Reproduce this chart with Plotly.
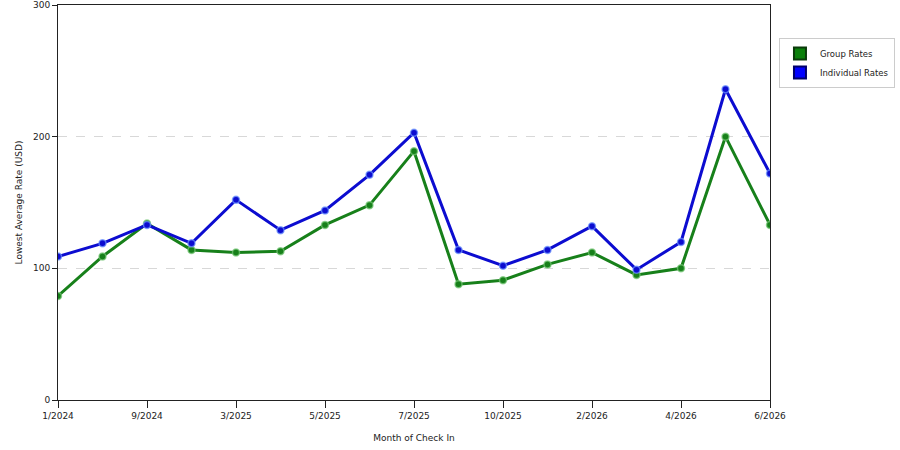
import plotly.graph_objects as go

months = ["1/2024", "8/2024", "9/2024", "1/2025", "3/2025", "4/2025", "5/2025", "6/2025",
          "7/2025", "8/2025", "10/2025", "12/2025", "2/2026", "3/2026", "4/2026", "5/2026", "6/2026"]
group_rates = [79, 109, 134, 114, 112, 113, 133, 148, 189, 88, 91, 103, 112, 95, 100, 200, 133]
individual_rates = [109, 119, 133, 119, 152, 129, 144, 171, 203, 114, 102, 114, 132, 99, 120, 236, 172]
tick_labels = months[::2]
y_ticks = [0, 100, 200, 300]

GREEN = "#17801a"
BLUE = "#0c0cd0"
FONT = "DejaVu Sans"

fig = go.Figure()
for name, vals, col, halo in [("Group Rates", group_rates, GREEN, "rgba(120,200,120,0.7)"),
                              ("Individual Rates", individual_rates, BLUE, "rgba(110,150,255,0.7)")]:
    fig.add_trace(go.Scatter(
        x=months, y=vals, mode="lines+markers", name=name, showlegend=False,
        line=dict(color=col, width=3),
        marker=dict(size=7, color=col, line=dict(color=halo, width=1.5)),
        hoverinfo="x+y",
    ))

for name, col, border in [("Group Rates", "#0a800a", "#0a3a0a"), ("Individual Rates", "#0000ff", "#00006a")]:
    fig.add_trace(go.Scatter(
        x=[None], y=[None], mode="markers", name=name,
        marker=dict(symbol="square", size=11, color=col, line=dict(color=border, width=1)),
    ))

fig.update_layout(
    width=900, height=450,
    margin=dict(l=58, r=130, t=5, b=50, autoexpand=False),
    paper_bgcolor="white", plot_bgcolor="white",
    font=dict(family=FONT, size=9, color="#222"),
    legend=dict(x=1.0126, y=0.9165, xanchor="left", yanchor="top",
                bordercolor="#cccccc", borderwidth=1, bgcolor="white",
                font=dict(family=FONT, size=8.5, color="#222"),
                itemsizing="constant", itemwidth=30, tracegroupgap=4),
    xaxis=dict(
        type="category", categoryorder="array", categoryarray=months,
        range=[0, len(months) - 1],
        tickmode="array", tickvals=tick_labels, ticktext=tick_labels,
        ticks="outside", ticklen=7, tickcolor="#222",
        showline=True, linecolor="#222", linewidth=1, mirror=True,
        showgrid=False, zeroline=False, automargin=False,
        title=dict(text="Month of Check In", font=dict(family=FONT, size=9), standoff=14),
        tickfont=dict(family=FONT, size=9),
    ),
    yaxis=dict(
        range=[0, 300], tickmode="array", tickvals=y_ticks,
        ticks="outside", ticklen=5, tickcolor="#222",
        showline=True, linecolor="#222", linewidth=1, mirror=True,
        showgrid=True, gridcolor="#d8d8d8", griddash="dash", gridwidth=1,
        zeroline=False, automargin=False,
        title=dict(text="Lowest Average Rate (USD)", font=dict(family=FONT, size=9), standoff=8),
        tickfont=dict(family=FONT, size=9),
    ),
)

fig.write_html("out.html", config={"displayModeBar": False},
               post_script="document.body.style.margin='0';")
